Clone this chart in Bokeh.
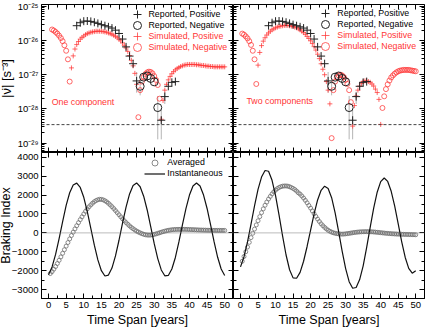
import numpy as np
from bokeh.plotting import figure
from bokeh.models import (LinearAxis, LogAxis, FixedTicker, SingleIntervalTicker, Span,
                          Legend, LegendItem, Label, CustomJSTickFormatter, Range1d)
from bokeh.layouts import gridplot
from bokeh.embed import file_html
from bokeh.resources import INLINE

FONT = "Liberation Sans"
RED = "#ff3535"
AVG_COLOR = "#6e6e6e"

# ---------------- data ----------------
# reported |nu_ddot| [s^-3] (same observations in both upper panels)
rep_pos_t = [8, 9, 10, 11, 12, 13, 14, 15, 16, 17, 18, 19, 20, 21, 22, 23, 24, 25, 32, 33, 34, 35, 36]
rep_pos_v = [2.7e-26, 3.3e-26, 3.65e-26, 3.7e-26, 3.6e-26, 3.4e-26, 3.15e-26, 2.9e-26, 2.7e-26,
             2.5e-26, 2.3e-26, 2.0e-26, 1.6e-26, 1.1e-26, 6.5e-27, 3.5e-27, 2.1e-27, 6.6e-28,
             4.7e-29, 2.3e-28, 4.6e-28, 6.0e-28, 6.3e-28]
rep_neg_t = [26, 27, 28, 29, 30, 31]
rep_neg_v = [4.6e-28, 8.5e-28, 9.2e-28, 7.8e-28, 6.2e-28, 1.1e-28]
err_t = [25, 26, 31, 32, 33]
err_lo = [3.0e-28, 2.5e-28, 1.3e-29, 1.3e-29, 1.4e-28]
err_hi = [1.2e-27, 6.5e-28, 2.4e-28, 1.0e-28, 3.2e-28]

# simulated |nu_ddot|: (sign, first year, log10 values every half year)
sim1_segments = [
    (-1, 1.0, [-25.68, -25.71, -25.75, -25.80, -25.86, -25.93, -26.02, -26.14, -26.30, -26.55, -27.20]),
    (+1, 6.5, [-26.80, -26.45, -26.25, -26.12, -26.03, -25.96, -25.91, -25.87, -25.83, -25.80,
               -25.78, -25.76, -25.75, -25.74, -25.73, -25.73, -25.73, -25.73, -25.74, -25.75,
               -25.76, -25.78, -25.80, -25.82, -25.85, -25.88, -25.92, -25.96, -26.01, -26.07,
               -26.14, -26.22, -26.32, -26.44, -26.58, -26.74, -26.96, -27.28]),
    (-1, 25.5, [-28.24, -27.45, -27.20, -27.06, -26.98, -26.93, -26.91, -26.92, -26.96, -27.04,
                -27.15, -27.30, -27.70]),
    (+1, 32.0, [-28.30, -27.75, -27.45, -27.28, -27.15, -27.05, -26.97, -26.91, -26.86, -26.82,
                -26.79, -26.76, -26.74, -26.72, -26.71, -26.70, -26.70, -26.70, -26.70, -26.70,
                -26.71, -26.71, -26.72, -26.73, -26.73, -26.74, -26.75, -26.75, -26.76, -26.76,
                -26.77, -26.77, -26.77, -26.77, -26.77, -26.77, -26.77]),
]
sim2_segments = [
    (-1, 0.5, [-25.80, -25.83, -25.88, -25.94, -26.02, -26.13, -26.30, -26.55, -27.27]),
    (+1, 5.0, [-26.72, -26.35, -26.15, -26.02, -25.92, -25.84, -25.78, -25.73, -25.69, -25.66,
               -25.63, -25.61, -25.59, -25.58, -25.57, -25.56, -25.56, -25.56, -25.57, -25.58,
               -25.59, -25.61, -25.63, -25.66, -25.69, -25.73, -25.77, -25.82, -25.88, -25.94,
               -26.01, -26.09, -26.18, -26.28, -26.40, -26.53, -26.68, -26.84, -27.00, -27.20,
               -27.45, -27.85]),
    (-1, 26.0, [-28.85, -27.45, -27.20, -27.08, -27.02, -27.00, -27.02, -27.07, -27.15, -27.27,
                -27.45, -27.80]),
    (+1, 32.0, [-28.50, -27.90, -27.62, -27.45, -27.33, -27.25, -27.20, -27.18, -27.18, -27.20,
                -27.22, -27.27, -27.33, -27.42, -27.52, -27.72, -28.45]),
    (-1, 40.5, [-27.97, -27.63, -27.42, -27.28, -27.17, -27.08, -27.02, -26.97, -26.93, -26.90,
                -26.88, -26.87, -26.86, -26.86, -26.86, -26.86, -26.87, -26.88, -26.89, -26.90]),
]
threshold = 3.5e-29

# braking index
inst_t = list(range(0, 51))
inst1 = [-2210, -1800, -1140, -300, 600, 1450, 2120, 2530, 2630, 2400, 1880, 1120, 240, -650,
         -1430, -2000, -2280, -2230, -1860, -1220, -390, 510, 1360, 2060, 2500, 2640, 2440, 1940,
         1210, 330, -570, -1360, -1960, -2270, -2250, -1910, -1300, -480, 420, 1280, 2000, 2480,
         2640, 2480, 2000, 1290, 420, -480, -1290, -1910, -2250]
inst2 = [-1800, -1260, -480, 460, 1430, 2300, 2950, 3300, 3260, 2780, 1970, 940, -160, -1170,
         -1950, -2380, -2400, -2090, -1500, -720, 150, 1010, 1740, 2250, 2470, 2350, 1860, 1060,
         70, -960, -1890, -2580, -2930, -2890, -2470, -1740, -770, 290, 1310, 2150, 2710, 2900,
         2720, 2200, 1410, 480, -470, -1300, -1880, -2130, -2000]
avg_t = [0.5 * (i + 1) for i in range(100)]
avg1 = [-2150, -2050, -1920, -1780, -1620, -1450, -1270, -1080, -890, -700,
        -510, -320, -140, 40, 210, 380, 540, 700, 850, 1000,
        1140, 1270, 1380, 1480, 1570, 1650, 1710, 1750, 1775, 1770,
        1745, 1700, 1640, 1565, 1480, 1385, 1285, 1180, 1070, 960,
        850, 745, 640, 545, 455, 370, 290, 220, 155, 95,
        45, 0, -40, -75, -100, -115, -120, -115, -100, -80,
        -55, -25, 5, 35, 65, 90, 115, 135, 150, 165,
        173, 180, 183, 185, 187, 188, 187, 185, 182, 178,
        174, 170, 165, 160, 156, 152, 149, 146, 143, 140,
        138, 136, 134, 133, 132, 131, 130, 130, 130, 130]
avg2 = [-1500, -1250, -1000, -750, -500, -250, -20, 200, 420, 640,
        860, 1070, 1270, 1460, 1630, 1790, 1930, 2060, 2170, 2260,
        2340, 2400, 2440, 2470, 2480, 2480, 2470, 2440, 2400, 2350,
        2290, 2210, 2120, 2050, 1950, 1840, 1720, 1590, 1450, 1310,
        1160, 1010, 870, 730, 600, 480, 380, 290, 210, 140,
        85, 40, 5, -20, -40, -55, -63, -66, -62, -52,
        -38, -25, -10, 5, 20, 32, 42, 50, 56, 60,
        63, 64, 63, 60, 55, 48, 40, 30, 20, 10,
        0, -10, -20, -28, -36, -43, -50, -56, -61, -66,
        -70, -74, -78, -81, -84, -87, -90, -93, -96, -100]
assert len(inst1) == len(inst2) == len(inst_t)
assert len(avg1) == len(avg2) == len(avg_t)

# axes
log_ticks = [1e-29, 1e-28, 1e-27, 1e-26, 1e-25]
log_tick_labels = ["10\u207b\u00b2\u2079", "10\u207b\u00b2\u2078", "10\u207b\u00b2\u2077",
                   "10\u207b\u00b2\u2076", "10\u207b\u00b2\u2075"]
log_minor = [m * 10.0 ** e for e in range(-30, -25) for m in range(2, 10)]
X_RANGE = (-2.0, 52.5)
Y_TOP = (10 ** -29.27, 10 ** -24.95)
Y_BOT = (-3470, 4250)


def sim_points(segments):
    pt, pv, nt, nv = [], [], [], []
    for sign, t0, logs in segments:
        for i, lv in enumerate(logs):
            if sign > 0:
                pt.append(t0 + 0.5 * i); pv.append(10 ** lv)
            else:
                nt.append(t0 + 0.5 * i); nv.append(10 ** lv)
    return pt, pv, nt, nv


def empty_fmt():
    return CustomJSTickFormatter(code="return ''")


def style_axis(ax, label_size="12.5px", label_standoff=0):
    ax.axis_line_color = "black"
    ax.axis_line_width = 1
    ax.major_tick_in = 5
    ax.major_tick_out = 0
    ax.minor_tick_in = 3
    ax.minor_tick_out = 0
    ax.major_tick_line_color = "black"
    ax.minor_tick_line_color = "black"
    ax.major_label_text_font = FONT
    ax.major_label_text_font_size = "9.5px"
    ax.major_label_text_color = "black"
    ax.major_label_standoff = 3
    ax.axis_label_text_font = FONT
    ax.axis_label_text_font_size = label_size
    ax.axis_label_text_font_style = "normal"
    ax.axis_label_text_color = "black"
    ax.axis_label_standoff = label_standoff
    return ax


def make_fig(width, height, left, right, top, bottom, yr, log):
    p = figure(width=width, height=height, x_range=Range1d(*X_RANGE), y_range=Range1d(*yr),
               y_axis_type="log" if log else "linear", x_axis_location=None, y_axis_location=None,
               output_backend="svg", toolbar_location=None, title=None,
               min_border_left=left, min_border_right=right, min_border_top=top,
               min_border_bottom=bottom)
    p.grid.visible = False
    p.outline_line_color = "black"
    p.background_fill_color = "white"
    p.border_fill_color = "white"
    return p


def add_axes(p, log, label_left, label_bottom, ylabel=None):
    xr, yr = p.x_range, p.y_range

    def xt():
        return SingleIntervalTicker(interval=5, num_minor_ticks=2)

    def yax(**kw):
        if log:
            return LogAxis(ticker=FixedTicker(ticks=log_ticks, minor_ticks=log_minor), **kw)
        return LinearAxis(ticker=SingleIntervalTicker(interval=1000, num_minor_ticks=2), **kw)

    if label_bottom:
        ax = style_axis(LinearAxis(ticker=xt(), axis_label="Time Span [years]"), "12.5px", 2)
    else:
        ax = style_axis(LinearAxis(ticker=xt(), formatter=empty_fmt(), fixed_location=yr.start))
    p.add_layout(ax, "below")
    p.add_layout(style_axis(LinearAxis(ticker=xt(), formatter=empty_fmt(),
                                       fixed_location=yr.end)), "above")
    if label_left:
        kw = dict(axis_label=ylabel)
        if log:
            kw["major_label_overrides"] = dict(zip(log_ticks, log_tick_labels))
            ax = style_axis(yax(**kw), "13px", 1)
        else:
            ax = style_axis(yax(**kw), "12.5px", -4)
    else:
        ax = style_axis(yax(formatter=empty_fmt(), fixed_location=xr.start))
    p.add_layout(ax, "left")
    p.add_layout(style_axis(yax(formatter=empty_fmt(), fixed_location=xr.end)), "right")


def legend_row(label, renderer, loc, color, gh, gw):
    return Legend(items=[LegendItem(label=label, renderers=[renderer])], location=loc,
                  orientation="vertical", label_text_font=FONT, label_text_font_size="8.8px",
                  label_text_color=color, glyph_height=gh, glyph_width=gw, label_height=gh,
                  label_width=10, label_standoff=2, spacing=0, padding=0, margin=0,
                  border_line_color=None, background_fill_alpha=0)


def top_panel(p, segments, text, tx, ty, leg_x, leg_y):
    pt, pv, nt, nv = sim_points(segments)
    p.add_layout(Span(location=threshold, dimension="width", line_dash="3 2",
                      line_color="#444444", line_width=1))
    p.segment(x0=err_t, y0=err_lo, x1=err_t, y1=err_hi, line_color="#b4b4b4", line_width=1)
    r_sp = p.scatter(pt, pv, marker="cross", size=5, line_color=RED, line_width=0.75)
    r_sn = p.scatter(nt, nv, marker="circle", size=5, line_color=RED, fill_color=None, line_width=0.75)
    r_rp = p.scatter(rep_pos_t, rep_pos_v, marker="cross", size=8, line_color="#222222", line_width=1)
    r_rn = p.scatter(rep_neg_t, rep_neg_v, marker="circle", size=8, line_color="#222222",
                     fill_color=None, line_width=1)
    rows = [("Reported, Positive", r_rp, "black"), ("Reported, Negative", r_rn, "black"),
            ("Simulated, Positive", r_sp, RED), ("Simulated, Negative", r_sn, RED)]
    for (lab, r, col), y in zip(rows, leg_y):
        p.add_layout(legend_row(lab, r, (leg_x, y), col, 20, 20))
    p.add_layout(Label(x=tx, y=ty, text=text, text_color=RED, text_font=FONT,
                       text_font_size="8.8px", text_baseline="middle", text_align="left"))


def bottom_panel(p, inst, avg, with_legend):
    p.add_layout(Span(location=0, dimension="width", line_dash="1 1",
                      line_color="#777777", line_width=1))
    r_a = p.scatter(avg_t, avg, marker="circle", size=4, line_color=AVG_COLOR,
                    fill_color=None, line_width=0.8)
    r_i = p.line(inst_t, inst, line_color="#111111", line_width=1.2)
    if with_legend:
        p.add_layout(legend_row("Averaged", r_a, (103.3, 128.2), "black", 15, 21))
        p.add_layout(legend_row("Instantaneous", r_i, (103.3, 117.2), "black", 15, 21))


p1 = make_fig(241, 152, 49, 0, 4, 0, Y_TOP, True)
add_axes(p1, True, True, False, "|\u03bd\u0308| [s\u207b\u00b3]")
top_panel(p1, sim1_segments, "One component", 0.9, 10 ** -27.8, 85.5,
          [128.5, 117.2, 105.9, 94.6])

p2 = make_fig(193, 152, 0, 2, 4, 0, Y_TOP, True)
add_axes(p2, True, False, False)
top_panel(p2, sim2_segments, "Two components", 1.7, 10 ** -27.77, 82.3,
          [129.5, 118.2, 106.9, 95.6])

p3 = make_fig(241, 180, 49, 0, 0, 34, Y_BOT, False)
add_axes(p3, False, True, True, "Braking Index")
bottom_panel(p3, inst1, avg1, True)

p4 = make_fig(193, 180, 0, 2, 0, 34, Y_BOT, False)
add_axes(p4, False, False, True)
bottom_panel(p4, inst2, avg2, False)

grid = gridplot([[p1, p2], [p3, p4]], toolbar_location=None)
grid.margin = (0, -8, -8, -8)

open("out.html", "w").write(file_html(grid, INLINE))
